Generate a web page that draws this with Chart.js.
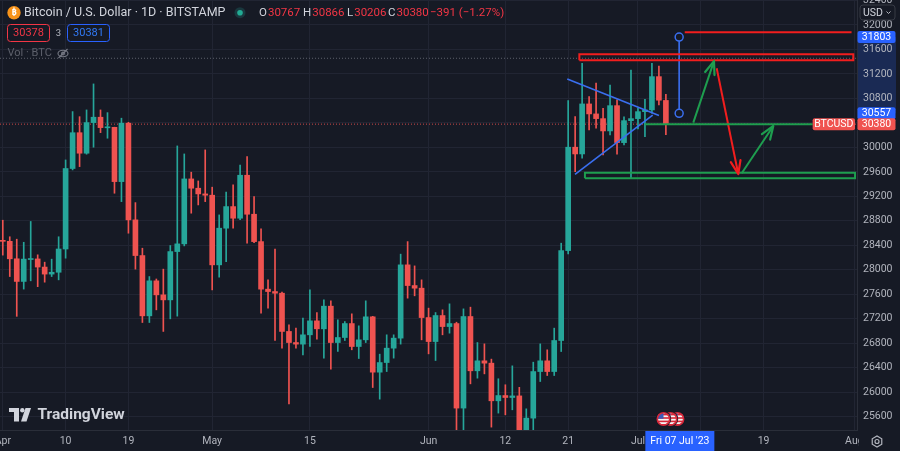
<!DOCTYPE html>
<html><head><meta charset="utf-8">
<script src="https://cdn.jsdelivr.net/npm/chart.js@4.4.1/dist/chart.umd.min.js"></script>
<style>html,body{margin:0;padding:0;background:#161a25;overflow:hidden}#wrap{position:relative;width:900px;height:451px}</style>
</head><body><div id="wrap"><canvas id="c" width="900" height="451"></canvas></div>
<script>
// ---- data: daily candles BTC/USD (Bitstamp), day 0 = 1 Apr 2023 ----
const opens = [28475,28465,28180,27810,28168,28178,28045,27930,27960,28340,
29655,30240,29905,30405,30493,30320,30328,29441,30395,28816,
28233,27248,27820,27591,27509,28298,28424,29485,29333,29240,
29219,28081,28680,29033,28843,29545,28908,28461,27684,27645,
27618,26993,26812,26786,26938,27166,27036,27406,26812,26894,
27122,26747,26856,27232,26328,26485,26720,26884,28081,27743,
27700,27220,26828,27253,27073,27122,25741,27237,26350,26513,
26475,25860,25946,25914,25940,25130,25577,26338,26513,26338,
26845,28314,30003,29893,30710,30547,30470,30269,30682,30078,
30437,30470,30584,30612,31156,30767];
const highs = [28810,28540,28500,28450,28790,28245,28125,28174,28540,29795,
30585,30502,30612,31037,30612,30568,30330,30477,30410,29098,
28353,27890,27850,28011,28397,30024,29893,29595,29452,29959,
29350,28897,29268,29387,29713,29850,29196,28669,27836,28337,
27635,27101,27047,27210,27672,27302,27509,27493,27183,27155,
27281,27085,27493,27240,26622,26938,26938,28256,28461,28064,
27836,27374,27302,27346,27444,27144,27362,27390,26812,26790,
26541,26220,26122,26431,26080,25729,26491,26790,26693,27047,
28435,30764,30503,31374,30830,31050,30640,31020,30776,30500,
31265,30640,30787,31374,31330,30866];
const lows = [28240,27890,27240,27685,27820,27725,27798,27890,27836,28190,
29632,29686,29889,30003,30241,30150,29251,29114,28598,28011,
27139,27139,27346,26993,27199,27243,28391,28925,29060,29114,
27672,27880,28135,28680,28820,28435,28445,27292,27374,26846,
26720,25811,26720,26611,26747,26867,26557,26378,26665,26845,
26693,26551,26812,26077,25887,26338,26557,26786,27537,27575,
26856,26627,26518,26938,26965,25380,25350,26137,26230,26300,
25430,25659,25631,25713,24850,24800,25180,26175,26273,26273,
26665,28260,29604,29822,30285,30313,29877,30204,29889,30040,
29497,30300,30176,30558,30694,30206];
const closes = [28465,28180,27810,28175,28178,28045,27930,27960,28340,29655,
30240,29905,30405,30493,30323,30328,29441,30395,28816,28233,
27248,27820,27591,27509,28298,28424,29485,29333,29240,29219,
28081,28680,29033,28843,29545,28908,28461,27684,27645,27618,
26993,26812,26786,26938,27166,27036,27406,26812,26894,27122,
26747,26856,27232,26328,26485,26720,26884,28081,27743,27700,
27220,26828,27253,27073,27122,25741,27237,26350,26513,26475,
25860,25946,25914,25940,25130,25577,26338,26513,26338,26845,
28314,30003,29893,30710,30547,30470,30269,30682,30078,30437,
30470,30584,30612,31156,30771,30380];

// time axis ticks (day index from 1 Apr 2023)
const tickDays   = [0, 9, 18, 30, 44, 61, 72, 81, 91, 100, 109, 122];
const tickLabels = ['Apr','10','19','May','15','Jun','12','21','Jul','10','19','Aug'];
const crossDay = 97; const crossLabel = "Fri 07 Jul '23";

// drawings (x = day index, y = price)
const triUpper  = [[80.87,31118],[94.01,30521]];
const triLower  = [[81.98,29560],[93.11,30529]];
const measure   = [[96.9,31803],[96.9,30557]];
const redLine   = [[97.7,31881],[121.6,31881]];
const redRect   = [82.6,121.85,31423,31521];
const greenLine = [[92.0,30380],[116.03,30380]];
const greenRect = [83.4,122.1,29495,29587];
const arrowUp1  = [[98.93,30404],[101.89,31410]];
const arrowDown = [[102.28,31292],[105.37,29565]];
const arrowUp2  = [[105.86,29577],[110.39,30350]];
const dottedLevel = 31456;
const smallBoxes = ['30378','3','30381'];

const GREEN='#26a69a', RED='#ef5350', BG='#161a25', GRID='#212533', AXIS='#2a2e39', TXT='#b2b5be';
const FONT='Roboto, "Noto Sans", sans-serif';
const col = i => closes[i] >= opens[i] ? GREEN : RED;
const pts = a => a.map(p=>({x:p[0], y:p[1]}));
const rectPts = r => [[r[0],r[2]],[r[1],r[2]],[r[1],r[3]],[r[0],r[3]],[r[0],r[2]]];
const lineDs = (a, color, extra) => Object.assign({type:'line', data:pts(a), borderColor:color, borderWidth:2,
  pointRadius:0, fill:false, tension:0, order:0, clip:0}, extra||{});
const lastClose = closes[closes.length-1];
const xFirst = -0.40, xLast = 122.38;

function rr(ctx,x,y,w,h,r){ctx.beginPath();ctx.moveTo(x+r,y);ctx.lineTo(x+w-r,y);ctx.quadraticCurveTo(x+w,y,x+w,y+r);
 ctx.lineTo(x+w,y+h-r);ctx.quadraticCurveTo(x+w,y+h,x+w-r,y+h);ctx.lineTo(x+r,y+h);ctx.quadraticCurveTo(x,y+h,x,y+h-r);
 ctx.lineTo(x,y+r);ctx.quadraticCurveTo(x,y,x+r,y);ctx.closePath();}

const arrowPlugin = {id:'arrows', afterDatasetsDraw(chart){
  const ctx=chart.ctx;
  chart.data.datasets.forEach((ds,i)=>{
    if(!ds.arrow) return;
    const d=chart.getDatasetMeta(i).data; const a=d[d.length-2], b=d[d.length-1];
    const ang=Math.atan2(b.y-a.y,b.x-a.x), L=14, w=0.36;
    ctx.save(); ctx.strokeStyle=ds.borderColor; ctx.lineWidth=2.2; ctx.lineCap='round'; ctx.lineJoin='round';
    ctx.beginPath(); ctx.moveTo(b.x-L*Math.cos(ang-w), b.y-L*Math.sin(ang-w)); ctx.lineTo(b.x,b.y);
    ctx.lineTo(b.x-L*Math.cos(ang+w), b.y-L*Math.sin(ang+w)); ctx.stroke(); ctx.restore();
  });
}};

function flag(ctx,x,y,r){
  ctx.save(); ctx.beginPath(); ctx.arc(x,y,r+1.5,0,Math.PI*2); ctx.fillStyle=BG; ctx.fill();
  ctx.beginPath(); ctx.arc(x,y,r,0,Math.PI*2); ctx.clip();
  ctx.fillStyle='#f4f4f4'; ctx.fillRect(x-r,y-r,2*r,2*r);
  ctx.fillStyle='#d6283a'; for(let k=0;k<4;k++){ctx.fillRect(x-r,y-r+1+k*3.4,2*r,1.6);}
  ctx.fillStyle='#3b5bb8'; ctx.fillRect(x-r,y-r,r,r*0.95);
  ctx.restore();
  ctx.beginPath(); ctx.arc(x,y,r,0,Math.PI*2); ctx.strokeStyle='#d6283a'; ctx.lineWidth=1.6; ctx.stroke();
}

const overlay = {id:'overlay',
 beforeDraw(chart){
   const ctx=chart.ctx, ys=chart.scales.y;
   ctx.save(); ctx.fillStyle=BG; ctx.fillRect(0,0,chart.width,chart.height);
   const y1=ys.getPixelForValue(measure[0][1]), y2=ys.getPixelForValue(measure[1][1]);
   ctx.fillStyle='rgba(41,98,255,0.22)'; ctx.fillRect(858,y1,38,y2-y1);
   ctx.restore();
 },
 afterDraw(chart){
   const ctx=chart.ctx, xs=chart.scales.x, ys=chart.scales.y;
   ctx.save();
   // header
   ctx.beginPath(); ctx.arc(14,12.7,6.7,0,Math.PI*2); ctx.fillStyle='#f7931a'; ctx.fill();
   ctx.fillStyle='#fff'; ctx.font='bold 9px '+FONT; ctx.textAlign='center'; ctx.textBaseline='middle'; ctx.fillText('₿',14,13);
   ctx.textAlign='left'; ctx.font='12.5px '+FONT; ctx.fillStyle='#d1d4dc';
   ctx.fillText('Bitcoin / U.S. Dollar · 1D · BITSTAMP',24,13);
   ctx.beginPath(); ctx.arc(240,12.7,5.5,0,Math.PI*2); ctx.fillStyle='rgba(38,166,154,0.22)'; ctx.fill();
   ctx.beginPath(); ctx.arc(240,12.7,2.8,0,Math.PI*2); ctx.fillStyle='#22ab94'; ctx.fill();
   const n=closes.length-1, chg=closes[n]-closes[n-1], pct=(chg/closes[n-1]*100).toFixed(2);
   const segs=[['O',opens[n],259],['H',highs[n],303],['L',lows[n],347],['C',closes[n],388]];
   ctx.font='11.5px '+FONT;
   segs.forEach(s=>{ctx.fillStyle='#d1d4dc'; ctx.fillText(s[0],s[2],13); const w=ctx.measureText(s[0]).width;
     ctx.fillStyle='#f23645'; ctx.fillText(String(s[1]),s[2]+w+1,13);});
   ctx.fillStyle='#f23645'; ctx.fillText('\u2212'+Math.abs(chg)+' (\u2212'+Math.abs(pct)+'%)',430,13);
   // row 2 boxes
   ctx.lineWidth=1; rr(ctx,7.5,24.5,42,17,3); ctx.strokeStyle='#f23645'; ctx.stroke();
   rr(ctx,67.5,24.5,42,17,3); ctx.strokeStyle='#2962ff'; ctx.stroke();
   ctx.font='11px '+FONT; ctx.textAlign='center';
   ctx.fillStyle='#f23645'; ctx.fillText(smallBoxes[0],28.5,33.5);
   ctx.fillStyle='#3179f5'; ctx.fillText(smallBoxes[2],88.5,33.5);
   ctx.font='9.5px '+FONT; ctx.fillStyle='#b2b5be'; ctx.fillText(smallBoxes[1],58.5,33.5);
   ctx.textAlign='left'; ctx.font='11px '+FONT; ctx.fillStyle='#5d606b'; ctx.fillText('Vol · BTC',7.5,53.5);
   ctx.strokeStyle='#787b86'; ctx.lineWidth=1.1; ctx.beginPath(); ctx.ellipse(63,53.5,5,3.3,0,0,Math.PI*2); ctx.stroke();
   ctx.beginPath(); ctx.arc(63,53.5,1.4,0,Math.PI*2); ctx.stroke();
   ctx.beginPath(); ctx.moveTo(58.5,58); ctx.lineTo(67.5,49); ctx.stroke();
   // BTCUSD line label + price axis labels
   const yc=ys.getPixelForValue(lastClose), xe=xs.getPixelForValue(greenLine[1][0]);
   rr(ctx,xe,yc-6,855-xe,12,2); ctx.fillStyle='#f05350'; ctx.fill();
   ctx.fillStyle='#fff'; ctx.font='10.5px '+FONT; ctx.textAlign='center'; ctx.textBaseline='middle';
   ctx.fillText('BTCUSD',(xe+855)/2,yc+0.5);
   const lab=(v,bg)=>{const y=ys.getPixelForValue(v); rr(ctx,857.5,y-6,38,12,2); ctx.fillStyle=bg; ctx.fill();
     ctx.fillStyle='#fff'; ctx.fillText(String(v),876.5,y+0.5);};
   lab(measure[0][1],'#2962ff'); lab(measure[1][1],'#2962ff'); lab(lastClose,'#f05350');
   // USD box
   rr(ctx,860,5,35,15,3); ctx.fillStyle=BG; ctx.fill(); ctx.strokeStyle='#363a45'; ctx.lineWidth=1; ctx.stroke();
   ctx.fillStyle='#d1d4dc'; ctx.font='10.5px '+FONT; ctx.textAlign='left'; ctx.fillText('USD',863,13);
   ctx.beginPath(); ctx.moveTo(886.5,11.5); ctx.lineTo(888.5,13.5); ctx.lineTo(890.5,11.5); ctx.strokeStyle='#b2b5be'; ctx.stroke();
   // corner + gear
   ctx.fillStyle=BG; ctx.fillRect(859,431,41,20);
   ctx.strokeStyle='#b2b5be'; ctx.lineWidth=1.2; ctx.beginPath();
   for(let k=0;k<6;k++){const a=Math.PI/6+k*Math.PI/3; const px=877+5.5*Math.cos(a), py=441.5+5.5*Math.sin(a); k?ctx.lineTo(px,py):ctx.moveTo(px,py);} ctx.closePath(); ctx.stroke();
   ctx.beginPath(); ctx.arc(877,441.5,2,0,Math.PI*2); ctx.stroke();
   // event flags
   for(let k=2;k>=0;k--) flag(ctx, xs.getPixelForValue(95+k)-2.4, 419, 6.2);
   // crosshair date label
   const xc=xs.getPixelForValue(crossDay);
   ctx.fillStyle='#2962ff'; ctx.fillRect(xc-34.5,431,69,20);
   ctx.fillStyle='#fff'; ctx.font='10.5px '+FONT; ctx.textAlign='center'; ctx.fillText(crossLabel,xc,441.5);
   // TradingView logo
   ctx.fillStyle='#d1d4dc';
   ctx.fillRect(9,408,10,4); ctx.fillRect(14,408,5,13.5);
   ctx.beginPath(); ctx.arc(22.3,410.2,2.2,0,Math.PI*2); ctx.fill();
   ctx.beginPath(); ctx.moveTo(25.5,408); ctx.lineTo(31,408); ctx.lineTo(26.5,421.5); ctx.lineTo(21,421.5); ctx.closePath(); ctx.fill();
   ctx.font='bold 15.5px '+FONT; ctx.textAlign='left'; ctx.fillText('TradingView',37.5,415);
   ctx.restore();
 }};

new Chart(document.getElementById('c'), {
  type:'bar',
  data:{datasets:[
    {type:'bar', data:highs.map((h,i)=>({x:i,y:[lows[i],h]})), backgroundColor:c=>col(c.dataIndex),
     barThickness:1, grouped:false, order:3, clip:0, borderWidth:0},
    {type:'bar', data:opens.map((o,i)=>({x:i,y:[o,closes[i]]})), backgroundColor:c=>col(c.dataIndex),
     barThickness:5, grouped:false, minBarLength:1, order:2, clip:0, borderWidth:0, borderSkipped:false},
    lineDs([[xFirst,dottedLevel],[xLast,dottedLevel]],'#5d606b',{borderWidth:1,borderDash:[1,2],order:4}),
    lineDs([[xFirst,lastClose],[xLast,lastClose]],'rgba(239,83,80,0.85)',{borderWidth:1,borderDash:[1,2],order:4}),
    lineDs(triUpper,'#3a6ff0',{borderWidth:1.6}),
    lineDs(triLower,'#3a6ff0',{borderWidth:1.6}),
    lineDs(redLine,'#f21e1e'),
    lineDs(rectPts(redRect),'#f21e1e',{borderJoinStyle:'miter'}),
    lineDs(greenLine,'#1e9e4f'),
    lineDs(rectPts(greenRect),'#1e9e4f',{borderJoinStyle:'miter'}),
    lineDs(arrowUp1,'#1e9e4f',{arrow:true}),
    lineDs(arrowDown,'#f21e1e',{arrow:true}),
    lineDs(arrowUp2,'#1e9e4f',{arrow:true}),
    lineDs(measure,'#3a6ff0',{borderWidth:1.6,pointRadius:4,pointBorderWidth:1.5,pointBorderColor:'#3a6ff0',pointBackgroundColor:BG})
  ]},
  options:{
    responsive:false, animation:false, events:[], layout:{padding:0, autoPadding:false},
    plugins:{legend:{display:false}, tooltip:{enabled:false}},
    scales:{
      x:{type:'linear', min:xFirst, max:xLast, offset:false,
         grid:{color:GRID, drawTicks:false, offset:false}, border:{display:true,color:AXIS},
         ticks:{autoSkip:false, maxRotation:0, padding:5, color:TXT, font:{family:FONT,size:10.5},
                callback:v=>{const k=tickDays.indexOf(v); return k<0?'':tickLabels[k];}},
         afterBuildTicks:s=>{s.ticks=tickDays.map(v=>({value:v}));},
         afterFit:s=>{s.height=21; s.paddingLeft=0; s.paddingRight=0;}},
      y:{type:'linear', position:'right', min:25383, max:32408,
         grid:{color:GRID, drawTicks:false}, border:{display:true,color:AXIS},
         ticks:{stepSize:400, includeBounds:false, padding:6, color:TXT, font:{family:FONT,size:10.5}, callback:v=>String(v)},
         afterFit:s=>{s.width=43; s.paddingTop=0; s.paddingBottom=0;}}
    }
  },
  plugins:[overlay, arrowPlugin]
});
</script></body></html>
